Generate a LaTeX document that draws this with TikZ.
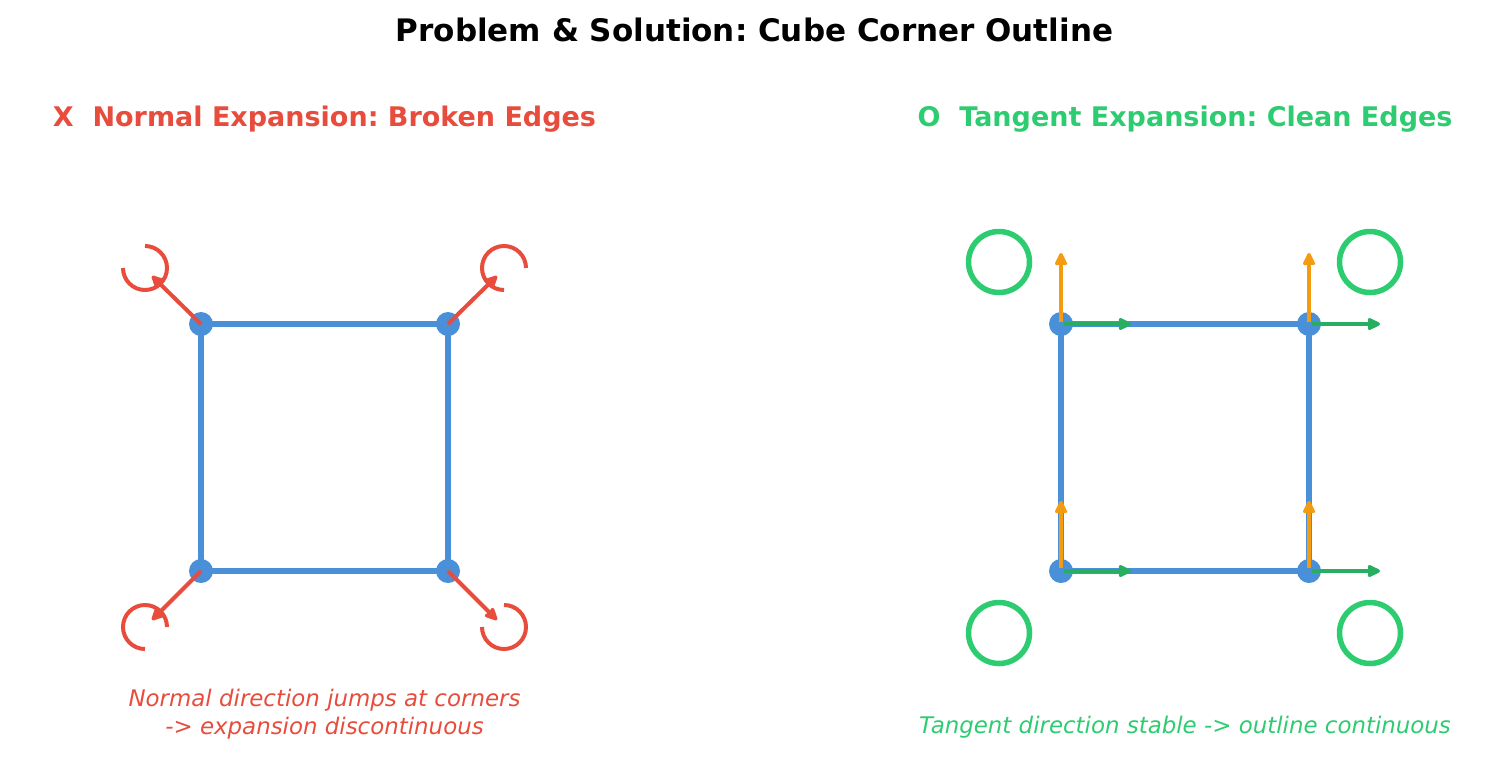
\documentclass[tikz,border=0pt]{standalone}
\usepackage{fontspec}
\setmainfont{DejaVu Sans}
\frenchspacing
\usetikzlibrary{arrows.meta}
\definecolor{cblue}{HTML}{4A90D9}
\definecolor{cred}{HTML}{E74C3C}
\definecolor{cgreen}{HTML}{2ECC71}
\definecolor{cdgreen}{HTML}{27AE60}
\definecolor{corange}{HTML}{F39C12}
\tikzset{
  edge/.style={draw=cblue, line width=5.5pt},
  dot/.style={circle, fill=cblue, inner sep=0pt, minimum size=24pt},
  tip/.style={-{Stealth[length=15pt,width=14pt,inset=1.5pt,round]}},
  narrow/.style={draw=cred, line width=4pt, tip},
  jump/.style={draw=cred, line width=4pt},
  ring/.style={circle, draw=cgreen, line width=5.5pt, inner sep=0pt, minimum size=61pt},
  tarrow/.style={draw=cdgreen, line width=4pt, tip},
  oarrow/.style={draw=corange, line width=4pt, tip},
}
\begin{document}
\begin{tikzpicture}[x=1pt,y=-1pt]
\useasboundingbox (0,0) rectangle (1509,772);
% titles
\node[font=\fontsize{31}{36}\selectfont\bfseries] (title) at (754.5,29.5) {Problem \& Solution: Cube Corner Outline};
\node[font=\fontsize{27}{32}\selectfont\bfseries, text=cred] (lt) at (324.5,119.5) {X\ \ Normal Expansion: Broken Edges};
\node[font=\fontsize{27}{32}\selectfont\bfseries, text=cgreen] (rt) at (1185,119.5) {O\ \ Tangent Expansion: Clean Edges};
% left square
\coordinate (a1) at (201,324);
\coordinate (b1) at (448,324);
\coordinate (c1) at (448,571);
\coordinate (d1) at (201,571);
\draw[edge] (a1) -- (b1) -- (c1) -- (d1) -- cycle;
\node[dot] (A1) at (a1) {};
\node[dot] (B1) at (b1) {};
\node[dot] (C1) at (c1) {};
\node[dot] (D1) at (d1) {};
\coordinate (na) at (152,276);
\coordinate (nb) at (497,276);
\coordinate (nc) at (497,620);
\coordinate (nd) at (152,620);
\draw[narrow] (a1) -- (na);
\draw[narrow] (b1) -- (nb);
\draw[narrow] (c1) -- (nc);
\draw[narrow] (d1) -- (nd);
% arcs (y axis points down: coordinate angle = - screen angle)
\draw[jump] (145,246) arc[start angle=-90, end angle=180, radius=22];
\draw[jump] (526,268) arc[start angle=0, end angle=-270, radius=22];
\draw[jump] (167,627) arc[start angle=0, end angle=-270, radius=22];
\draw[jump] (504,605) arc[start angle=-90, end angle=180, radius=22];
\node[font=\fontsize{22.9}{28}\selectfont\itshape, text=cred, align=center] (lc) at (324.5,714.5) {Normal direction jumps at corners\\-> expansion discontinuous};
% right square
\coordinate (a2) at (1061,324);
\coordinate (b2) at (1309,324);
\coordinate (c2) at (1309,571);
\coordinate (d2) at (1061,571);
\draw[edge] (a2) -- (b2) -- (c2) -- (d2) -- cycle;
\node[dot] (A2) at (a2) {};
\node[dot] (B2) at (b2) {};
\node[dot] (C2) at (c2) {};
\node[dot] (D2) at (d2) {};
\node[ring] (r1) at (999,262) {};
\node[ring] (r2) at (1370,262) {};
\node[ring] (r3) at (999,633) {};
\node[ring] (r4) at (1370,633) {};
\coordinate (oa) at (1061,253);
\coordinate (ob) at (1309,253);
\coordinate (oc) at (1309,501);
\coordinate (od) at (1061,501);
\draw[oarrow] (1061,322) -- (oa);
\draw[oarrow] (1309,322) -- (ob);
\draw[oarrow] (1309,568) -- (oc);
\draw[oarrow] (1061,568) -- (od);
\coordinate (ga) at (1131,324);
\coordinate (gb) at (1380,324);
\coordinate (gc) at (1380,571);
\coordinate (gd) at (1131,571);
\draw[tarrow] (1064,324) -- (ga);
\draw[tarrow] (1312,324) -- (gb);
\draw[tarrow] (1312,571) -- (gc);
\draw[tarrow] (1064,571) -- (gd);
\node[font=\fontsize{22.9}{27}\selectfont\itshape, text=cgreen] (rc) at (1185,727.5) {Tangent direction stable -> outline continuous};
\end{tikzpicture}
\end{document}
